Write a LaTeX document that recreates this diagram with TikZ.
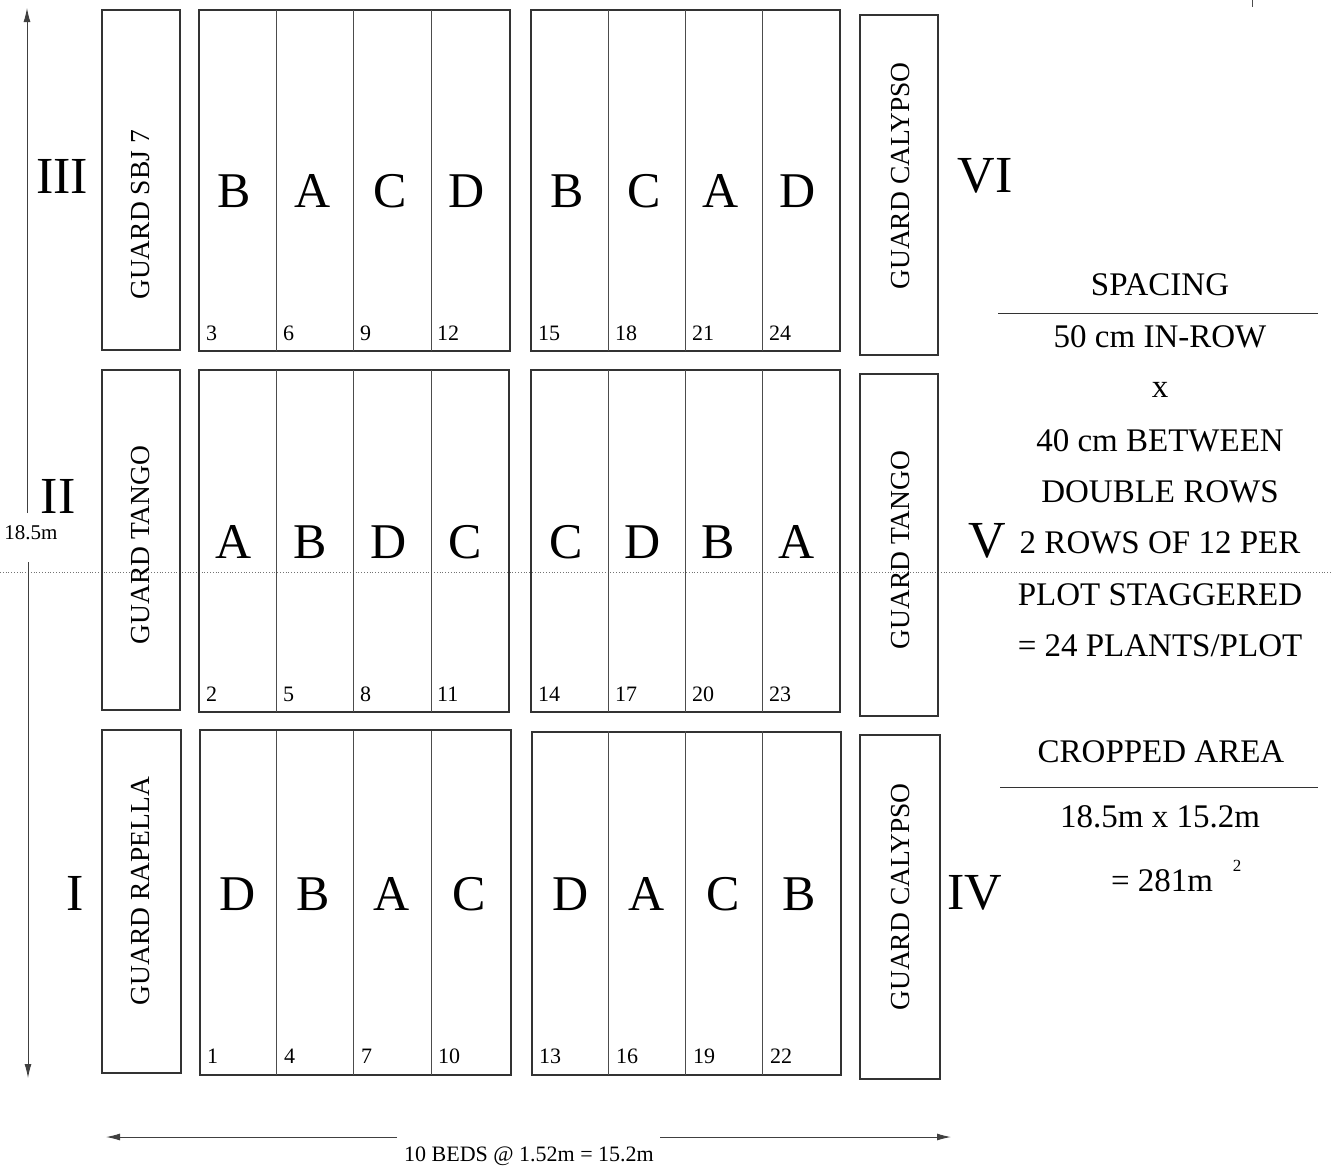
\documentclass[tikz,border=0pt]{standalone}
\usepackage{fontspec}
\setmainfont{Liberation Serif}
\usetikzlibrary{arrows.meta}
\begin{document}
\begin{tikzpicture}[x=1pt,y=-1pt,
  bed/.style={draw=black!80,line width=1.1pt},
  divider/.style={draw=black!70,line width=0.9pt},
  letter/.style={font=\fontsize{50}{56}\selectfont,inner sep=0pt},
  roman/.style={font=\fontsize{52}{58}\selectfont,inner sep=0pt},
  guard/.style={font=\fontsize{27.5}{32}\selectfont,rotate=90,inner sep=0pt},
  plotno/.style={font=\fontsize{22}{24}\selectfont,inner sep=0pt,anchor=south west},
  note/.style={font=\fontsize{33}{38}\selectfont,inner sep=0pt},
  small/.style={font=\fontsize{21}{24}\selectfont,inner sep=0pt},
  dim/.style={draw=black!75,line width=1pt,-{Latex[length=14pt,width=7pt]}}]
\useasboundingbox (0,0) rectangle (1332,1167);
% scan line
\draw[black!55,line width=0.8pt,dotted] (0,572) -- (1332,572);
\draw[black!70,line width=1pt] (1252,0) -- (1252,7);
% guard boxes
\draw[bed] (102,10) rectangle (180,350);
\draw[bed] (860,15) rectangle (938,355);
\draw[bed] (102,370) rectangle (180,710);
\draw[bed] (860,374) rectangle (938,716);
\draw[bed] (102,730) rectangle (181,1073);
\draw[bed] (860,735) rectangle (940,1079);
% plot blocks
\foreach \l/\t/\r/\b in {199/10/510/351, 531/10/840/351, 199/370/509/712, 531/370/840/712, 200/730/511/1075, 532/732/841/1075}{
  \draw[bed] (\l,\t) rectangle (\r,\b);
}
\foreach \x in {276,353,431,608,685,762}{
  \draw[divider] (\x,10) -- (\x,351);
  \draw[divider] (\x,370) -- (\x,712);
  \draw[divider] (\x,731) -- (\x,1075);
}
% guard labels
\node[guard] (gl3) at (141,215) {GUARD SBJ 7};
\node[guard] (gr3) at (901,176) {GUARD CALYPSO};
\node[guard] (gl2) at (141,545) {GUARD TANGO};
\node[guard] (gr2) at (901,550) {GUARD TANGO};
\node[guard] (gl1) at (141,891) {GUARD RAPELLA};
\node[guard] (gr1) at (901,897) {GUARD CALYPSO};
% letters
\foreach \x/\c [count=\i] in {234/B,313/A,390/C,467/D,567/B,644/C,721/A,798/D}{
  \node[letter] (t\i) at (\x,191) {\c};
}
\foreach \x/\c [count=\i] in {234/A,310/B,389/D,465/C,566/C,643/D,718/B,797/A}{
  \node[letter] (m\i) at (\x,542) {\c};
}
\foreach \x/\c [count=\i] in {238/D,313/B,392/A,469/C,571/D,647/A,723/C,799/B}{
  \node[letter] (b\i) at (\x,894) {\c};
}
% plot numbers
\foreach \x/\n [count=\i] in {206/3,283/6,360/9,437/12,538/15,615/18,692/21,769/24}{
  \node[plotno] (pt\i) at (\x,341) {\n};
}
\foreach \x/\n [count=\i] in {206/2,283/5,360/8,437/11,538/14,615/17,692/20,769/23}{
  \node[plotno] (pm\i) at (\x,702) {\n};
}
\foreach \x/\n [count=\i] in {207/1,284/4,361/7,438/10,539/13,616/16,693/19,770/22}{
  \node[plotno] (pb\i) at (\x,1064) {\n};
}
% roman numerals
\node[roman] (r3) at (62,176) {III};
\node[roman] (r2) at (58,496) {II};
\node[roman] (r1) at (75,893) {I};
\node[roman] (r6) at (985,176) {VI};
\node[roman] (r5) at (987,541) {V};
\node[roman] (r4) at (975,893) {IV};
% right notes
\node[note] (sp) at (1160,285) {SPACING};
\draw[black!80,line width=1pt] (998,313) -- (1318,313);
\node[note] (n1) at (1160,337) {50 cm IN-ROW};
\node[note] (n2) at (1160,390) {x};
\node[note] (n3) at (1160,441) {40 cm BETWEEN};
\node[note] (n4) at (1160,492) {DOUBLE ROWS};
\node[note] (n5) at (1160,543) {2 ROWS OF 12 PER};
\node[note] (n6) at (1160,595) {PLOT STAGGERED};
\node[note] (n7) at (1160,646) {= 24 PLANTS/PLOT};
\node[note] (ca) at (1161,752) {CROPPED AREA};
\draw[black!80,line width=1pt] (1000,787) -- (1318,787);
\node[note] (a1) at (1160,817) {18.5m x 15.2m};
\node[note] (a2) at (1162,881) {= 281m};
\node[small,font=\fontsize{17}{20}\selectfont] (sq) at (1237,866) {2};
% dimension arrows
\node[small] (hl) at (31,533) {18.5m};
\coordinate (vt) at (27,8);
\coordinate (vb) at (28,1078);
\coordinate (vgt) at (27,513);
\coordinate (vgb) at (28,562);
\draw[dim] (vgt) -- (vt);
\draw[dim] (vgb) -- (vb);
\node[small,font=\fontsize{22}{24}\selectfont] (wl) at (529,1156) {10 BEDS @ 1.52m = 15.2m};
\coordinate (hlft) at (106,1137);
\coordinate (hrgt) at (951,1137);
\coordinate (hgl) at (397,1137);
\coordinate (hgr) at (660,1137);
\draw[dim] (hgl) -- (hlft);
\draw[dim] (hgr) -- (hrgt);
\end{tikzpicture}
\end{document}
